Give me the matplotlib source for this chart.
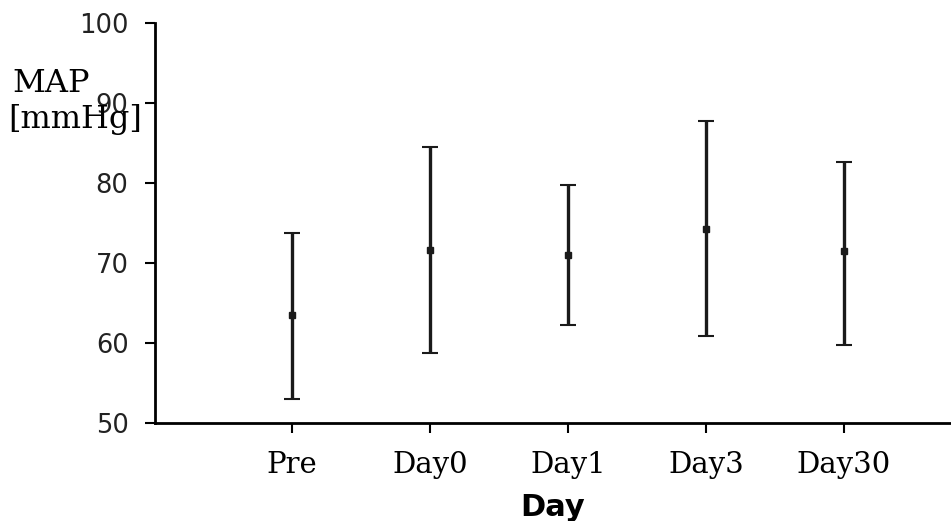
import matplotlib
matplotlib.use('Agg')
import matplotlib.pyplot as plt

# MAP per day: mean with lower / upper error limits
days = ['Pre', 'Day0', 'Day1', 'Day3', 'Day30']
mean = [63.5, 71.6, 71.0, 74.3, 71.5]
lower = [53.0, 58.7, 62.3, 60.9, 59.7]
upper = [73.8, 84.5, 79.7, 87.8, 82.6]

err_lo = [m - l for m, l in zip(mean, lower)]
err_hi = [u - m for m, u in zip(mean, upper)]
x = list(range(len(days)))

fig = plt.figure(figsize=(9.51, 5.21), dpi=100)
ax = fig.add_axes([155/951, 1 - 423/521, 1 - 155/951, 400/521])

ax.errorbar(x, mean, yerr=[err_lo, err_hi], fmt='s', color='#1a1a1a',
            ecolor='#1a1a1a', elinewidth=2.4, capsize=5.5, capthick=1.5,
            markersize=5)

ax.set_xlim(-0.99, 4.775)
ax.set_ylim(50, 100)
ax.set_yticks([50, 60, 70, 80, 90, 100])
ax.set_xticks(x)
ax.set_xticklabels(days, family='DejaVu Serif', fontsize=21)
for lab in ax.get_yticklabels():
    lab.set_family('DejaVu Sans')
    lab.set_fontsize(18.5)
    lab.set_color('#222222')

ax.spines['top'].set_visible(False)
ax.spines['right'].set_visible(False)
ax.spines['left'].set_linewidth(2)
ax.spines['bottom'].set_linewidth(2)
ax.tick_params(axis='y', length=7, width=1.5, pad=12)
ax.tick_params(axis='x', length=7, width=1.5, pad=13)

ax.set_xlabel('Day', family='DejaVu Sans', fontweight='bold', fontsize=22,
              labelpad=10)

fig.text(12/951, 1 - 92/521, 'MAP', family='DejaVu Serif', fontsize=23,
         va='baseline', ha='left')
fig.text(8/951, 1 - 128/521, '[mmHg]', family='DejaVu Serif', fontsize=23,
         va='baseline', ha='left')

fig.savefig('out.png', dpi=100)
